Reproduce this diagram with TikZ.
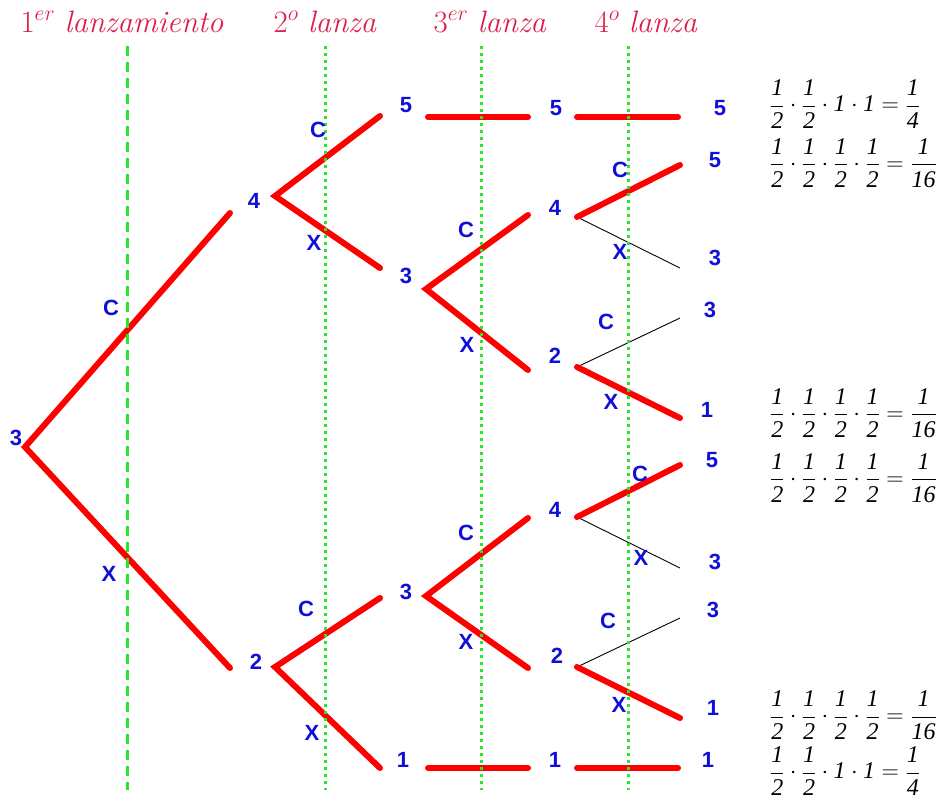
\RequirePackage{fix-cm}
\documentclass[tikz,border=0pt]{standalone}
\usepackage{fontspec}
\newfontfamily\arialf{Liberation Sans}
\newfontfamily\timesf{Liberation Serif}
\definecolor{hdr}{RGB}{222,30,72}
\definecolor{lbl}{RGB}{15,15,215}
\definecolor{grn}{RGB}{40,230,40}
\definecolor{brd}{RGB}{255,0,0}
\newcommand\ti[1]{\hbox{\timesf\itshape #1}}
\newcommand\fr[2]{\frac{\ti{#1}}{\ti{#2}}}
\newcommand\eqA{$\displaystyle\fr12\cdot\fr12\cdot\ti{1}\cdot\ti{1}=\fr14$}
\newcommand\eqB{$\displaystyle\fr12\cdot\fr12\cdot\fr12\cdot\fr12=\fr1{16}$}
\tikzset{
  hdrtxt/.style={text=hdr, font=\fontsize{31}{35}\selectfont, anchor=base, inner sep=0pt},
  lab/.style={text=lbl, font=\arialf\bfseries\fontsize{22}{25}\selectfont, inner sep=0pt},
  thk/.style={draw=brd, line width=6pt, line cap=round},
  thn/.style={draw=black, line width=0.9pt},
  gdash/.style={draw=grn, line width=3pt, dash pattern=on 10pt off 6pt},
  gdot/.style={draw=grn, line width=3pt, dash pattern=on 3pt off 4pt},
  eqn/.style={anchor=west, inner sep=0pt, font=\fontsize{24}{28}\selectfont}
}
\begin{document}
\begin{tikzpicture}[x=1pt,y=-1pt]
\useasboundingbox (0,0) rectangle (940,801);
% headers
\node[hdrtxt] (h1) at (122,32) {$1^{er}$ \textit{lanzamiento}};
\node[hdrtxt] (h2) at (325,32) {$2^{o}$ \textit{lanza}};
\node[hdrtxt] (h3) at (490,32) {$3^{er}$ \textit{lanza}};
\node[hdrtxt] (h4) at (646,32) {$4^{o}$ \textit{lanza}};
% coordinates
\coordinate (r) at (25,447);
\coordinate (u1) at (230,213);
\coordinate (d1) at (230,668);
\coordinate (b4) at (275,196);
\coordinate (b4u) at (380,116);
\coordinate (b4d) at (380,268);
\coordinate (h5a) at (428,117);
\coordinate (h5b) at (528,117);
\coordinate (h5c) at (577,117);
\coordinate (h5d) at (678,117);
\coordinate (b3) at (426,289);
\coordinate (b3u) at (528,215);
\coordinate (b3d) at (528,370);
\coordinate (b44) at (577,217);
\coordinate (e5) at (680,165);
\coordinate (e3) at (680,268);
\coordinate (b22) at (577,367);
\coordinate (e3b) at (680,318);
\coordinate (e1) at (680,418);
\coordinate (b2) at (275,667);
\coordinate (b2u) at (380,598);
\coordinate (b2d) at (380,768);
\coordinate (h1a) at (428,768);
\coordinate (h1b) at (528,768);
\coordinate (h1c) at (577,768);
\coordinate (h1d) at (678,768);
\coordinate (b33) at (426,596);
\coordinate (b33u) at (528,518);
\coordinate (b33d) at (528,668);
\coordinate (c4) at (577,517);
\coordinate (f5) at (680,465);
\coordinate (f3) at (680,568);
\coordinate (c2) at (577,667);
\coordinate (f3b) at (680,618);
\coordinate (f1) at (680,718);
% thin branches
\draw[thn] (b44) -- (e3);
\draw[thn] (b22) -- (e3b);
\draw[thn] (c4) -- (f3);
\draw[thn] (c2) -- (f3b);
% thick branches
\draw[thk] (u1) -- (r) -- (d1);
\draw[thk] (b4u) -- (b4) -- (b4d);
\draw[thk] (h5a) -- (h5b);
\draw[thk] (h5c) -- (h5d);
\draw[thk] (b3u) -- (b3) -- (b3d);
\draw[thk] (b44) -- (e5);
\draw[thk] (b22) -- (e1);
\draw[thk] (b2u) -- (b2) -- (b2d);
\draw[thk] (h1a) -- (h1b);
\draw[thk] (h1c) -- (h1d);
\draw[thk] (b33u) -- (b33) -- (b33d);
\draw[thk] (c4) -- (f5);
\draw[thk] (c2) -- (f1);
% green guide lines
\coordinate (g1t) at (127,46); \coordinate (g1b) at (127,790);
\coordinate (g2t) at (325,46); \coordinate (g2b) at (325,790);
\coordinate (g3t) at (481,46); \coordinate (g3b) at (481,790);
\coordinate (g4t) at (628,46); \coordinate (g4b) at (628,790);
\draw[gdash] (g1t) -- (g1b);
\draw[gdot] (g2t) -- (g2b);
\draw[gdot] (g3t) -- (g3b);
\draw[gdot] (g4t) -- (g4b);
% labels
\node[lab] (n3) at (16,438) {3};
\node[lab] (lc1) at (111,308) {C};
\node[lab] (lx1) at (109,574) {X};
\node[lab] (n4) at (254,201) {4};
\node[lab] (n2) at (256,662) {2};
\node[lab] (lc2) at (318,130) {C};
\node[lab] (lx2) at (314,243) {X};
\node[lab] (n5a) at (406,105) {5};
\node[lab] (n3a) at (406,276) {3};
\node[lab] (n5b) at (556,108) {5};
\node[lab] (n5c) at (720,108) {5};
\node[lab] (lc3) at (466,230) {C};
\node[lab] (lx3) at (467,345) {X};
\node[lab] (n4a) at (555,208) {4};
\node[lab] (n2a) at (555,356) {2};
\node[lab] (lc4) at (620,170) {C};
\node[lab] (lx4) at (620,252) {X};
\node[lab] (n5d) at (715,160) {5};
\node[lab] (n3b) at (715,258) {3};
\node[lab] (lc5) at (606,322) {C};
\node[lab] (lx5) at (611,402) {X};
\node[lab] (n3c) at (710,310) {3};
\node[lab] (n1a) at (707,410) {1};
\node[lab] (lc6) at (306,609) {C};
\node[lab] (lx6) at (312,733) {X};
\node[lab] (n3d) at (406,592) {3};
\node[lab] (n1b) at (403,760) {1};
\node[lab] (n1c) at (555,760) {1};
\node[lab] (n1d) at (708,760) {1};
\node[lab] (lc7) at (466,533) {C};
\node[lab] (lx7) at (466,642) {X};
\node[lab] (n4b) at (555,510) {4};
\node[lab] (n2b) at (557,656) {2};
\node[lab] (lc8) at (640,474) {C};
\node[lab] (lx8) at (641,558) {X};
\node[lab] (n5e) at (712,460) {5};
\node[lab] (n3e) at (715,562) {3};
\node[lab] (lc9) at (608,621) {C};
\node[lab] (lx9) at (619,705) {X};
\node[lab] (n3f) at (713,610) {3};
\node[lab] (n1e) at (713,708) {1};
% probabilities
\node[eqn] (p1) at (770,104) {\eqA};
\node[eqn] (p2) at (770,163) {\eqB};
\node[eqn] (p3) at (770,413) {\eqB};
\node[eqn] (p4) at (770,478) {\eqB};
\node[eqn] (p5) at (770,715) {\eqB};
\node[eqn] (p6) at (770,771) {\eqA};
\end{tikzpicture}
\end{document}
